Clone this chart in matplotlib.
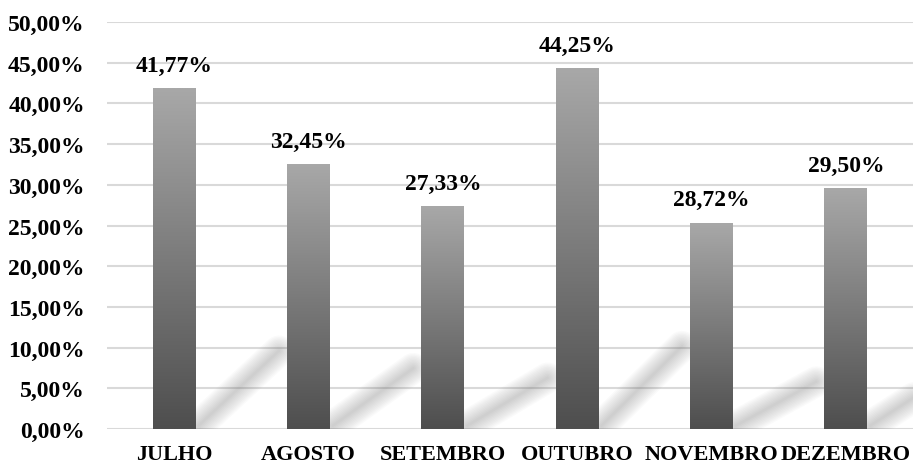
import numpy as np
import matplotlib.pyplot as plt
from matplotlib.colors import LinearSegmentedColormap

meses = ["JULHO", "AGOSTO", "SETEMBRO", "OUTUBRO", "NOVEMBRO", "DEZEMBRO"]
valores = [41.77, 32.45, 27.33, 44.25, 25.30, 29.50]
rotulos = ["41,77%", "32,45%", "27,33%", "44,25%", "28,72%", "29,50%"]
yticks = [0, 5, 10, 15, 20, 25, 30, 35, 40, 45, 50]

plt.rcParams['font.family'] = ['Liberation Serif', 'DejaVu Serif']

fig = plt.figure(figsize=(9.13, 4.64), dpi=100)
ax = fig.add_axes([107 / 913, 1 - 430 / 464, 806 / 913, 407 / 464])

cmap = LinearSegmentedColormap.from_list("cinza", ["#4e4e4e", "#a8a8a8"])
grad = np.linspace(0, 1, 256).reshape(-1, 1)
largura = 0.32

x = np.arange(len(meses))
for i, v in enumerate(valores):
    # sombra difusa atras da barra
    x0 = x[i] + largura / 2
    for lw in range(2, 24, 2):
        ax.plot([x0 + 0.02, x0 + 0.62], [0.4, v * 0.23], color="#707070", lw=lw,
                alpha=0.03, solid_capstyle="round", zorder=1)
    ax.imshow(grad, cmap=cmap, origin="lower", aspect="auto", zorder=2,
              extent=[x[i] - largura / 2, x[i] + largura / 2, 0, v])
    ax.text(x[i], v + 1.6, rotulos[i], ha="center", va="bottom",
            fontsize=17, fontweight="bold")

ax.set_xlim(-0.5, len(meses) - 0.5)
ax.set_ylim(0, 50)
ax.set_yticks(yticks)
ax.set_yticklabels([f"{t:.2f}%".replace(".", ",") for t in yticks],
                   fontsize=17, fontweight="bold")
ax.set_xticks(x)
ax.set_xticklabels(meses, fontsize=16, fontweight="bold")
ax.grid(axis="y", color="#d9d9d9", lw=1.5, zorder=0)
ax.set_axisbelow(True)
for s in ax.spines.values():
    s.set_visible(False)
ax.tick_params(axis="y", length=0, pad=16)
ax.tick_params(axis="x", length=0, pad=11)

fig.savefig("out.png", dpi=100)
